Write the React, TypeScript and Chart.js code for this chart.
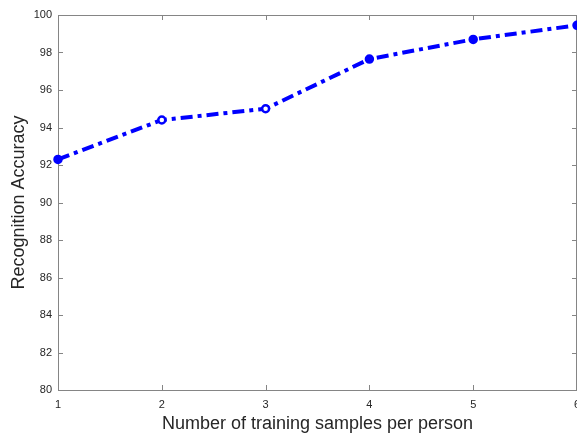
import React, { useEffect, useRef } from "react";
import { Chart, registerables } from "chart.js";

Chart.register(...registerables);

const samplesPerPerson = [1, 2, 3, 4, 5, 6];
const recognitionAccuracy = [92.3, 94.4, 95.0, 97.65, 98.7, 99.45];
const pointFills = ["#0000ff", "#ffffff", "#ffffff", "#0000ff", "#0000ff", "#0000ff"];
const xTicks = [1, 2, 3, 4, 5, 6];
const yTicks = [80, 82, 84, 86, 88, 90, 92, 94, 96, 98, 100];

const FONT = "'Liberation Sans', Arial, Helvetica, sans-serif";
const AXIS_COLOR = "#858585";
const TEXT_COLOR = "#262626";

const boxPlugin = {
  id: "matlabBox",
  beforeDatasetsDraw(chart: any) {
    const { ctx, chartArea } = chart;
    const { left, right, top, bottom } = chartArea;
    const xs = chart.scales.x;
    const ys = chart.scales.y;
    ctx.save();
    ctx.strokeStyle = AXIS_COLOR;
    ctx.lineWidth = 1;
    ctx.beginPath();
    const tl = 5;
    xTicks.forEach((v) => {
      const px = Math.min(Math.round(xs.getPixelForValue(v)), Math.round(right) - 1) + 0.5;
      ctx.moveTo(px, bottom);
      ctx.lineTo(px, bottom - tl);
      ctx.moveTo(px, top);
      ctx.lineTo(px, top + tl);
    });
    yTicks.forEach((v) => {
      const py = Math.round(ys.getPixelForValue(v)) + 0.5;
      ctx.moveTo(left, py);
      ctx.lineTo(left + tl, py);
      ctx.moveTo(right, py);
      ctx.lineTo(right - tl, py);
    });
    ctx.stroke();
    ctx.strokeRect(Math.round(left) + 0.5, Math.round(top) + 0.5, Math.round(right - left) - 1, Math.round(bottom - top));
    ctx.restore();
  },
};

export default function App() {
  const ref = useRef<HTMLCanvasElement>(null);
  useEffect(() => {
    if (!ref.current) return;
    const chart = new Chart(ref.current, {
      type: "line",
      data: {
        datasets: [
          {
            data: samplesPerPerson.map((x, i) => ({ x, y: recognitionAccuracy[i] })),
            borderColor: "#0000ff",
            borderWidth: 4,
            borderDash: [12, 5, 4, 5],
            pointRadius: 3.5,
            pointBorderWidth: 2.5,
            pointBorderColor: "#0000ff",
            pointBackgroundColor: pointFills,
            tension: 0,
            fill: false,
            clip: false as any,
          },
        ],
      },
      options: {
        responsive: false,
        animation: false,
        layout: { autoPadding: false, padding: { top: 15, right: 0, left: 0, bottom: 0 } },
        plugins: { legend: { display: false }, tooltip: { enabled: false } },
        scales: {
          x: {
            type: "linear",
            min: 1,
            max: 6,
            afterFit: (s: any) => {
              s.height = 45;
              s.paddingLeft = 0;
              s.paddingRight = 0;
            },
            afterBuildTicks: (s: any) => {
              s.ticks = xTicks.map((v) => ({ value: v }));
            },
            grid: { display: false, drawTicks: false },
            border: { display: false },
            ticks: {
              padding: 8,
              color: TEXT_COLOR,
              font: { family: FONT, size: 11 },
              maxRotation: 0,
            },
            title: {
              display: true,
              text: "Number of training samples per person",
              color: TEXT_COLOR,
              font: { family: FONT, size: 18 },
              padding: { top: 0, bottom: 0 },
            },
          },
          y: {
            min: 80,
            max: 100,
            afterFit: (s: any) => {
              s.width = 58;
              s.paddingTop = 0;
              s.paddingBottom = 0;
            },
            afterBuildTicks: (s: any) => {
              s.ticks = yTicks.map((v) => ({ value: v }));
            },
            grid: { display: false, drawTicks: false },
            border: { display: false },
            ticks: {
              padding: 6,
              color: TEXT_COLOR,
              font: { family: FONT, size: 11 },
            },
            title: {
              display: true,
              text: "Recognition Accuracy",
              color: TEXT_COLOR,
              font: { family: FONT, size: 18 },
              padding: { top: 8, bottom: 0 },
            },
          },
        },
      },
      plugins: [boxPlugin],
    });
    return () => chart.destroy();
  }, []);
  return (
    <div style={{ position: "fixed", left: 0, top: 0, width: 577, height: 435, background: "#fff" }}>
      <canvas ref={ref} width={577} height={435} />
    </div>
  );
}
